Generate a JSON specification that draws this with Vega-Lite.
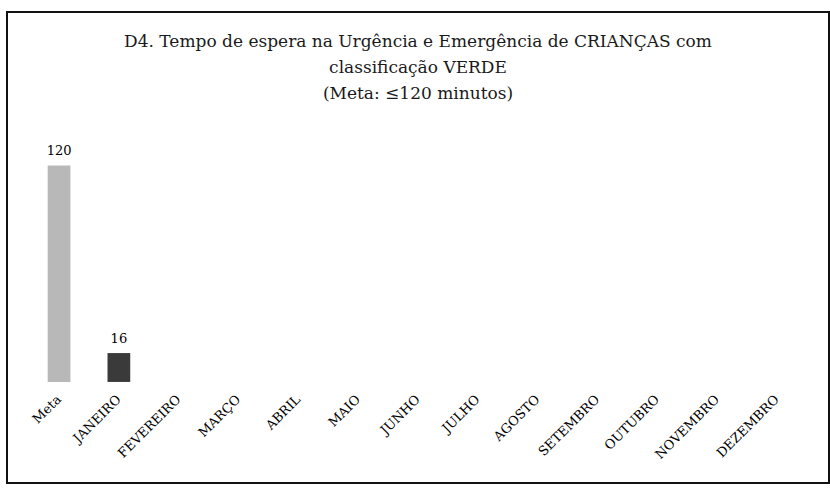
{
  "$schema": "https://vega.github.io/schema/vega-lite/v6.json",
  "autosize": {"type": "none"},
  "width": 822,
  "height": 471,
  "padding": {"left": 7, "top": 12, "right": 1, "bottom": 12},
  "background": "white",
  "config": {
    "view": {"stroke": "#111", "strokeWidth": 2},
    "font": "DejaVu Serif"
  },
  "title": {
    "text": ["D4. Tempo de espera na Urgência e Emergência de CRIANÇAS com", "classificação VERDE", "(Meta: ≤120 minutos)"],
    "font": "DejaVu Serif",
    "fontSize": 17,
    "fontWeight": "normal",
    "color": "#1a1a1a",
    "lineHeight": 26,
    "anchor": "middle",
    "baseline": "bottom",
    "offset": -108
  },
  "data": {
    "values": [
      {"mes": "Meta", "valor": 120},
      {"mes": "JANEIRO", "valor": 16},
      {"mes": "FEVEREIRO", "valor": null},
      {"mes": "MARÇO", "valor": null},
      {"mes": "ABRIL", "valor": null},
      {"mes": "MAIO", "valor": null},
      {"mes": "JUNHO", "valor": null},
      {"mes": "JULHO", "valor": null},
      {"mes": "AGOSTO", "valor": null},
      {"mes": "SETEMBRO", "valor": null},
      {"mes": "OUTUBRO", "valor": null},
      {"mes": "NOVEMBRO", "valor": null},
      {"mes": "DEZEMBRO", "valor": null}
    ]
  },
  "encoding": {
    "x": {
      "field": "mes",
      "type": "nominal",
      "sort": null,
      "scale": {
        "domain": ["Meta", "JANEIRO", "FEVEREIRO", "MARÇO", "ABRIL", "MAIO", "JUNHO", "JULHO", "AGOSTO", "SETEMBRO", "OUTUBRO", "NOVEMBRO", "DEZEMBRO"],
        "paddingInner": 0.62,
        "paddingOuter": 0.68
      },
      "axis": {
        "title": null,
        "orient": "bottom",
        "offset": -101,
        "domain": false,
        "ticks": false,
        "labelAngle": -45,
        "labelAlign": "right",
        "labelBaseline": "middle",
        "labelPadding": 15,
        "labelFont": "DejaVu Serif",
        "labelFontSize": 13,
        "labelColor": "#000",
        "grid": false
      }
    },
    "y": {
      "field": "valor",
      "type": "quantitative",
      "scale": {"domain": [-56, 205], "nice": false, "zero": true},
      "axis": null
    }
  },
  "layer": [
    {
      "mark": {"type": "bar"},
      "encoding": {
        "color": {
          "field": "mes",
          "type": "nominal",
          "scale": {"domain": ["Meta", "JANEIRO"], "range": ["#b8b8b8", "#3a3a3a"]},
          "legend": null
        }
      }
    },
    {
      "mark": {"type": "text", "dy": -14, "font": "DejaVu Serif", "fontSize": 13, "fontWeight": "normal", "color": "#000"},
      "transform": [{"filter": "isValid(datum.valor)"}],
      "encoding": {"text": {"field": "valor", "type": "quantitative"}}
    }
  ]
}
